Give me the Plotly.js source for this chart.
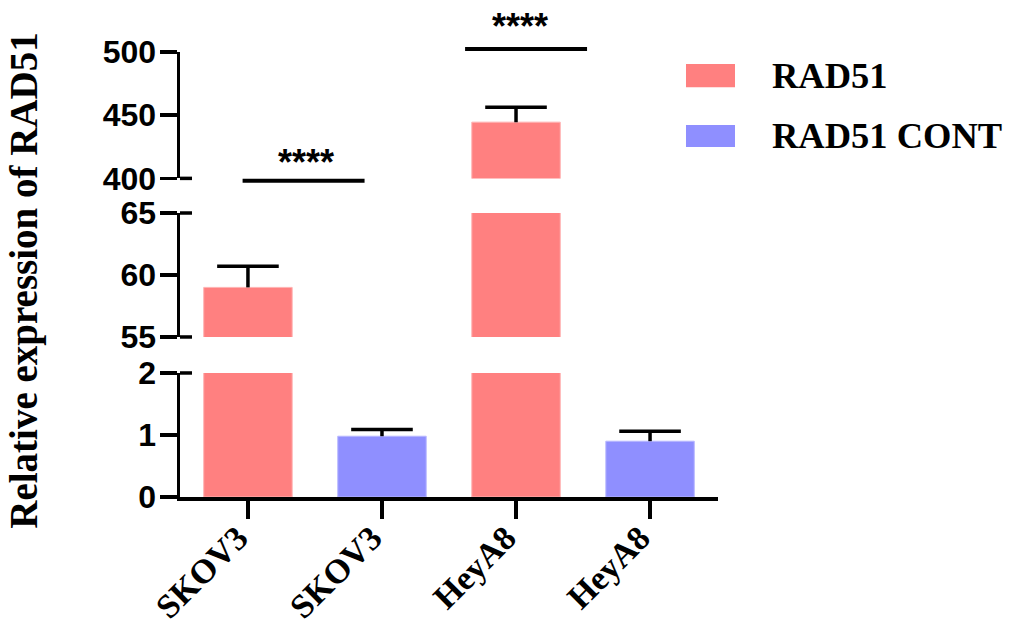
<!DOCTYPE html>
<html>
<head>
<meta charset="utf-8">
<script src="https://cdn.plot.ly/plotly-3.0.1.min.js"></script>
<style>
html,body{margin:0;padding:0;background:#fff;}
#chart{width:1012px;height:624px;}
</style>
</head>
<body>
<div id="chart"></div>
<script>
// ---- data ----
var categories = ["SKOV3", "SKOV3", "HeyA8", "HeyA8"];
var seriesNames = ["RAD51", "RAD51 CONT"];
var rad51X = [0, 2];
var rad51Values = [59.0, 444.5];
var rad51ErrUp = [1.7, 11.8];
var contX = [1, 3];
var contValues = [0.98, 0.90];
var contErrUp = [0.11, 0.16];
var seriesColors = ["#FF8080", "#8F8FFF"];
// broken axis segments
var segLow = [0, 2];
var segMid = [55, 65];
var segHigh = [400, 500];
var ticksLow = [0, 1, 2];
var ticksMid = [55, 60, 65];
var ticksHigh = [400, 450, 500];
// significance marks (x in category units)
var sigLabel = "****";
var sigX0 = [-0.04, 1.62];
var sigX1 = [0.87, 2.53];
var sigStarX = [0.43, 2.03];

var axesIds = ['y', 'y2', 'y3'];
var traces = [];
function zeros(a){ return a.map(function(){ return 0; }); }
function tops(v, e){ return v.map(function(d, i){ return d + e[i]; }); }
var series = [
  {x: rad51X, v: rad51Values, e: rad51ErrUp, c: seriesColors[0], lc: '#FFB3B3', n: seriesNames[0]},
  {x: contX, v: contValues, e: contErrUp, c: seriesColors[1], lc: '#B8B8FF', n: seriesNames[1]}
];
axesIds.forEach(function(ya){
  series.forEach(function(s){
    traces.push({
      type: 'bar', x: s.x, y: s.v, name: s.n,
      yaxis: ya, xaxis: 'x', width: 0.66, showlegend: false,
      marker: {color: s.c, line: {color: s.lc, width: 1}},
      error_y: {type: 'data', symmetric: false, array: s.e, arrayminus: zeros(s.e),
                color: '#000', thickness: 3.5, width: 0}
    });
    // error bar caps (upper only)
    traces.push({
      type: 'scatter', mode: 'markers', x: s.x, y: tops(s.v, s.e), name: s.n,
      yaxis: ya, xaxis: 'x', showlegend: false, hoverinfo: 'skip',
      marker: {symbol: 'line-ew', size: 44, color: '#000', line: {color: '#000', width: 3.5}}
    });
  });
});

var yTickFont = {family: 'Liberation Sans, Arial, sans-serif', size: 32, color: '#000', weight: 'bold'};
function yAxis(range, tv, domain){
  return {
    domain: domain, range: range, tickvals: tv, ticktext: tv.map(String),
    showgrid: false, zeroline: false, showline: true, linecolor: '#000', linewidth: 3.5,
    ticks: 'outside', ticklen: 17, tickwidth: 3.5, tickcolor: '#000',
    ticklabelstandoff: -3,
    tickfont: yTickFont, anchor: 'x', fixedrange: true
  };
}

var shapes = [];
// break caps extending right of the axis
[['y domain', 1], ['y2 domain', 0], ['y2 domain', 1], ['y3 domain', 0]].forEach(function(s){
  shapes.push({type: 'line', xref: 'paper', yref: s[0], x0: 0, x1: 0.0223, y0: s[1], y1: s[1],
               line: {color: '#000', width: 3.5}});
});
// significance brackets
var sigY = [0.7108, 1.0067];
var starY = [0.7506, 1.0584];
var annotations = [];
sigX0.forEach(function(x0, i){
  shapes.push({type: 'line', xref: 'x', yref: 'paper', x0: x0, x1: sigX1[i],
               y0: sigY[i], y1: sigY[i], line: {color: '#000', width: 4}});
  annotations.push({xref: 'x', yref: 'paper', x: sigStarX[i], y: starY[i],
                    text: sigLabel, showarrow: false, xanchor: 'center', yanchor: 'middle',
                    font: {family: 'Liberation Sans, Arial, sans-serif', size: 36, color: '#000', weight: 'bold'}});
});
// legend (drawn)
var legY = [[0.921, 0.973], [0.7865, 0.836]];
seriesNames.forEach(function(n, i){
  shapes.push({type: 'rect', xref: 'paper', yref: 'paper', x0: 0.9405, x1: 1.0316,
               y0: legY[i][0], y1: legY[i][1], fillcolor: seriesColors[i], line: {width: 0}});
  annotations.push({xref: 'paper', yref: 'paper', x: 1.0966, y: (legY[i][0] + legY[i][1]) / 2,
                    text: n, showarrow: false, xanchor: 'left', yanchor: 'middle',
                    font: {family: 'Liberation Serif, Times New Roman, serif', size: 36.5, color: '#000', weight: 'bold'}});
});
// y axis title
annotations.push({xref: 'paper', yref: 'paper', x: -0.289, y: 0.485, textangle: -90,
                  text: 'Relative expression of RAD51', showarrow: false,
                  xanchor: 'center', yanchor: 'middle',
                  font: {family: 'Liberation Serif, Times New Roman, serif', size: 39, color: '#000', weight: 'bold'}});

var layout = {
  width: 1012, height: 624,
  margin: {l: 180, r: 294, t: 52, b: 127},
  paper_bgcolor: '#fff', plot_bgcolor: 'rgba(0,0,0,0)',
  barmode: 'overlay', showlegend: false,
  xaxis: {
    range: [-0.507, 3.507], tickvals: [0, 1, 2, 3], ticktext: categories,
    tickangle: -45, showgrid: false, zeroline: false, showline: true, linecolor: '#000', linewidth: 3.5,
    ticks: 'outside', ticklen: 18, tickwidth: 3.5, tickcolor: '#000', anchor: 'y',
    ticklabelstandoff: -14, ticklabelshift: -10,
    tickfont: {family: 'Liberation Serif, Times New Roman, serif', size: 34, color: '#000', weight: 'bold'},
    fixedrange: true
  },
  yaxis: yAxis(segLow, ticksLow, [0, 0.2787]),
  yaxis2: yAxis(segMid, ticksMid, [0.3596, 0.6382]),
  yaxis3: yAxis(segHigh, ticksHigh, [0.716, 1]),
  shapes: shapes,
  annotations: annotations
};

Plotly.newPlot('chart', traces, layout, {displayModeBar: false, staticPlot: true});
</script>
</body>
</html>
